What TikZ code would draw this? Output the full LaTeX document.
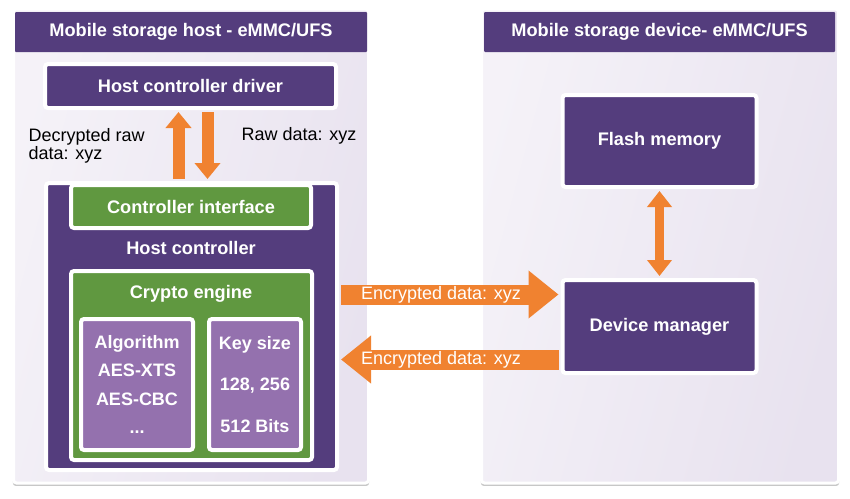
\documentclass[tikz,border=0pt]{standalone}
\usepackage{fontspec}
\setmainfont{Liberation Sans}
\usetikzlibrary{arrows.meta,positioning,shadows}

\definecolor{cpurple}{RGB}{84,61,125}
\definecolor{cgreen}{RGB}{96,152,64}
\definecolor{clilac}{RGB}{148,113,174}
\definecolor{corange}{RGB}{240,130,48}
\definecolor{cpanel}{RGB}{232,226,239}

\newcommand{\bfs}{\fontsize{18.2}{21}\selectfont\bfseries}
\newcommand{\rms}{\fontsize{18}{18.5}\selectfont}

\begin{document}
\begin{tikzpicture}[x=1pt,y=-1pt,semithick]
  \tikzstyle{panel}=[draw=white,line width=3pt,rounded corners=3pt,left color=cpanel!45,right color=cpanel,shading angle=75,drop shadow={shadow xshift=0pt,shadow yshift=-2pt,shadow scale=1.004,opacity=0.4,fill=black!55}]
  \tikzstyle{hbar}=[fill=cpurple,text=white,font=\bfs,minimum width=352pt,minimum height=40pt,inner sep=0pt,rounded corners=1pt]
  \tikzstyle{box}=[draw=white,line width=4pt,fill=cpurple,text=white,font=\bfs,rounded corners=3pt,drop shadow={shadow xshift=0.5pt,shadow yshift=-1.5pt,opacity=0.3}]
  \tikzstyle{gbox}=[box,fill=cgreen]
  \tikzstyle{lbox}=[box,fill=clilac,align=center,minimum height=131pt]
  \tikzstyle{thin}=[corange,line width=12pt,-{Triangle[length=16pt,width=25pt]},shorten <=2pt,shorten >=2pt]
  \tikzstyle{wide}=[corange,line width=20pt,-{Triangle[length=30pt,width=46pt]},shorten <=2pt,shorten >=2pt]
  \tikzstyle{lbl}=[text=white,font=\rms]

  \useasboundingbox (0,0) rectangle (850,498);

  % panels
  \node[panel,minimum width=355pt,minimum height=474pt] (hostp) at (191,246) {};
  \node[panel,minimum width=357pt,minimum height=474pt] (devp) at (660,246) {};
  \node[hbar] (hostt) at (191,32) {Mobile storage host - eMMC/UFS};
  \node[hbar,minimum width=351pt] (devt) at (659.5,32) {Mobile storage device- eMMC/UFS};

  % host side
  \node[box,minimum width=291pt,minimum height=44pt] (hcd) at (190.5,86) {Host controller driver};
  \node[box,minimum width=291pt,minimum height=287pt] (hc) at (191.5,326.5) {};
  \node[gbox,minimum width=240pt,minimum height=43pt] (ci) at (191,206.5) {Controller interface};
  \node[text=white,font=\bfs] (hct) at (191,248) {Host controller};
  \node[gbox,minimum width=241pt,minimum height=189pt] (ce) at (191.5,365.5) {};
  \node[text=white,font=\bfs] (cet) at (191,294) {Crypto engine};
  \node[lbox,minimum width=112pt,font=\fontsize{18}{28.5}\selectfont\bfseries] (alg) at (137,384.5) {Algorithm\\AES-XTS\\AES-CBC\\...};
  \node[lbox,minimum width=92pt,font=\fontsize{18}{41.5}\selectfont\bfseries] (key) at (255,384.5) {Key size\\128, 256\\512 Bits};

  \node[font=\rms,align=left,anchor=west] (dec) at (25,146) {Decrypted raw\\data: xyz};
  \node[font=\rms,anchor=west] (raw) at (238,136) {Raw data: xyz};

  % device side
  \node[box,minimum width=194pt,minimum height=92pt] (fm) at (659.5,141) {Flash memory};
  \node[box,minimum width=194pt,minimum height=93pt] (dm) at (659.5,326.5) {Device manager};

  % data paths
  \draw[thin] ([xshift=-12pt]hcd.south |- hc.north) -- ([xshift=-12pt]hcd.south);
  \draw[thin] ([xshift=17pt]hcd.south) -- ([xshift=17pt]hcd.south |- hc.north);
  \draw[wide] ([yshift=32pt]hc.east) -- ([yshift=32pt]hc.east -| dm.west)
    node[lbl,pos=0.46] {Encrypted data: xyz};
  \draw[wide] ([yshift=-33pt]hc.east -| dm.west) -- ([yshift=-33pt]hc.east)
    node[lbl,pos=0.54] {Encrypted data: xyz};
  \draw[corange,line width=9pt,{Triangle[length=16pt,width=24pt]}-{Triangle[length=16pt,width=24pt]},shorten <=2pt,shorten >=2pt] (fm) -- (dm);
\end{tikzpicture}
\end{document}
